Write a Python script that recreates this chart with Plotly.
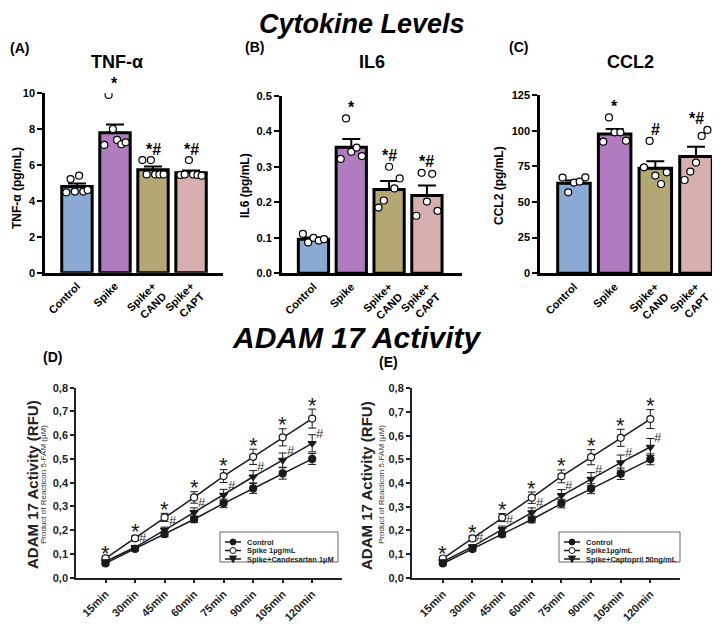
import plotly.graph_objects as go

# the page body has an 8px margin, so the figure is drawn 8px smaller and offset
PAGE_W, PAGE_H, OFF = 720, 634, 8
W, H = PAGE_W - OFF, PAGE_H - OFF

# ---- data : cytokines (bars = mean, error = SEM, dots = individual samples)
groups = ["Control", "Spike", "Spike+<br>CAND", "Spike+<br>CAPT"]
bar_colors = ["#8aaad3", "#b07cbf", "#b3a874", "#d8afaf"]

tnf_mean = [4.80, 7.80, 5.74, 5.57]
tnf_sem = [0.17, 0.46, 0.18, 0.12]
tnf_dots = [[4.48, 5.22, 4.52, 5.41, 4.52, 4.61],
            [7.12, 9.91, 8.01, 7.40, 7.16, 7.27],
            [6.28, 5.48, 6.28, 5.48, 5.48, 5.48],
            [5.45, 5.48, 6.28, 5.48, 5.45, 5.41]]
tnf_marks = ["", "*", "*#", "*#"]

il6_mean = [0.096, 0.355, 0.236, 0.219]
il6_sem = [0.005, 0.023, 0.024, 0.028]
il6_dots = [[0.111, 0.087, 0.100, 0.092, 0.096],
            [0.322, 0.436, 0.342, 0.354, 0.330],
            [0.185, 0.205, 0.300, 0.239, 0.267],
            [0.162, 0.283, 0.202, 0.280, 0.176]]
il6_marks = ["", "*", "*#", "*#"]

ccl2_mean = [63.1, 97.7, 73.6, 81.8]
ccl2_sem = [2.0, 3.5, 5.0, 7.0]
ccl2_dots = [[67.1, 56.8, 63.6, 64.3, 67.3],
             [92.3, 109.3, 98.8, 98.8, 93.0],
             [74.3, 92.8, 68.5, 62.6, 70.8],
             [65.4, 71.3, 77.6, 96.3, 100.5]]
ccl2_marks = ["", "*", "#", "*#"]

# ---- data : ADAM 17 activity
times = ["15min", "30min", "45min", "60min", "75min", "90min", "105min", "120min"]
ctrl = [0.060, 0.121, 0.183, 0.246, 0.313, 0.376, 0.439, 0.500]
ctrl_sem = [0.005, 0.008, 0.011, 0.014, 0.018, 0.021, 0.024, 0.023]
spike = [0.081, 0.166, 0.254, 0.338, 0.428, 0.509, 0.591, 0.670]
spike_sem = [0.006, 0.010, 0.017, 0.024, 0.027, 0.032, 0.036, 0.040]
cand = [0.068, 0.128, 0.200, 0.275, 0.348, 0.425, 0.495, 0.566]
cand_sem = [0.005, 0.008, 0.013, 0.019, 0.024, 0.026, 0.030, 0.036]
capt = [0.068, 0.131, 0.204, 0.275, 0.348, 0.416, 0.486, 0.552]
capt_sem = [0.005, 0.008, 0.014, 0.020, 0.024, 0.028, 0.032, 0.036]
star_marks = ["*", "*", "*", "*", "*", "*", "*", "*"]
hash_marks = ["", "#", "#", "#", "#", "#", "#", "#"]
adam_ticks = [0, 0.1, 0.2, 0.3, 0.4, 0.5, 0.6, 0.7, 0.8]
adam_ticktext = ["0,0", "0,1", "0,2", "0,3", "0,4", "0,5", "0,6", "0,7", "0,8"]

FONT = "Liberation Sans, Arial, sans-serif"
INK = "#1a1a1a"


def px_x(p):
    return (p - OFF) / W


def px_y(p):
    return 1 - (p - OFF) / H


fig = go.Figure()
annotations = []
shapes = []


def bar_panel(n, mean, sem, dots, marks, ymax, dtick, tickfmt, box, xr):
    xa, ya = ("x", "y") if n == 1 else (f"x{n}", f"y{n}")
    fig.add_trace(go.Bar(
        x=list(range(len(groups))), y=mean, width=0.8,
        marker=dict(color=bar_colors, line=dict(color="black", width=3)),
        error_y=dict(type="data", array=sem, arrayminus=[0] * len(sem), symmetric=False,
                     color="black", thickness=2, width=9),
        xaxis=xa, yaxis=ya, showlegend=False))
    for i, vals in enumerate(dots):
        k = len(vals)
        xs = [i - 0.28 + 0.56 * j / (k - 1) for j in range(k)]
        fig.add_trace(go.Scatter(
            x=xs, y=vals, mode="markers", xaxis=xa, yaxis=ya, showlegend=False,
            marker=dict(symbol="circle", size=7, color="white", line=dict(color="black", width=1.2))))
        if marks[i]:
            top = max(mean[i] + sem[i], max(vals))
            annotations.append(dict(x=i, y=top, xref=xa, yref=ya, text=f"<b>{marks[i]}</b>",
                                    showarrow=False, yanchor="middle", yshift=11,
                                    font=dict(family=FONT, size=16, color="black")))
    left, right, top_px, bot_px = box
    layout_x = dict(domain=[px_x(left), min(1, px_x(right))], range=xr, anchor=ya, automargin=False,
                    tickvals=list(range(len(groups))), ticktext=groups, tickangle=-45,
                    ticks="", showline=True, linecolor="black", linewidth=2.5,
                    showgrid=False, zeroline=False,
                    tickfont=dict(family=FONT, size=11, color="black", weight="bold"))
    layout_y = dict(domain=[px_y(bot_px), px_y(top_px)], range=[0, ymax], anchor=xa, automargin=False,
                    dtick=dtick, tickformat=tickfmt, ticks="outside", ticklen=5, tickwidth=2,
                    tickcolor="black", showline=True, linecolor="black", linewidth=2.5,
                    showgrid=False, zeroline=False,
                    tickfont=dict(family=FONT, size=11, color="black", weight="bold"))
    key = "" if n == 1 else str(n)
    fig.update_layout(**{f"xaxis{key}": layout_x, f"yaxis{key}": layout_y})


bar_panel(1, tnf_mean, tnf_sem, tnf_dots, tnf_marks, 10, 2, "d",
          (45, 223, 93.3, 272.7), [-0.84, 3.84])
bar_panel(2, il6_mean, il6_sem, il6_dots, il6_marks, 0.5, 0.1, ".1f",
          (281.7, 461.7, 95.7, 273.3), [-0.84, 3.92])
bar_panel(3, ccl2_mean, ccl2_sem, ccl2_dots, ccl2_marks, 125, 25, "d",
          (540, 720, 95, 273.3), [-0.835, 3.59])


def legend_box(x0, y0, x1, y1, labels):
    # hand-drawn legend, compact like the original
    shapes.append(dict(type="rect", xref="paper", yref="paper", x0=px_x(x0), x1=px_x(x1),
                       y0=px_y(y1), y1=px_y(y0), line=dict(color="#666", width=1),
                       fillcolor="white", layer="above"))
    syms = ["dot", "open", "tri"]
    for k, lab in enumerate(labels):
        yy = y0 + 10 + 8.5 * k
        shapes.append(dict(type="line", xref="paper", yref="paper", x0=px_x(x0 + 5), x1=px_x(x0 + 21),
                           y0=px_y(yy), y1=px_y(yy), line=dict(color=INK, width=1.5), layer="above"))
        cx = x0 + 13
        if syms[k] == "tri":
            path = (f"M {px_x(cx - 3.5)} {px_y(yy - 3)} L {px_x(cx + 3.5)} {px_y(yy - 3)} "
                    f"L {px_x(cx)} {px_y(yy + 3.5)} Z")
            shapes.append(dict(type="path", xref="paper", yref="paper", path=path,
                               fillcolor=INK, line=dict(color=INK, width=1), layer="above"))
        else:
            shapes.append(dict(type="circle", xref="paper", yref="paper",
                               x0=px_x(cx - 3), x1=px_x(cx + 3), y0=px_y(yy + 3), y1=px_y(yy - 3),
                               fillcolor=INK if syms[k] == "dot" else "white",
                               line=dict(color=INK, width=1), layer="above"))
        annotations.append(dict(x=px_x(x0 + 25), y=px_y(yy), xref="paper", yref="paper",
                                text=f"<b>{lab}</b>", showarrow=False, xanchor="left", yanchor="middle",
                                font=dict(family=FONT, size=7.5, color="#222")))


def line_panel(n, third, third_sem, labels, box, xr, legpos):
    xa, ya = f"x{n}", f"y{n}"
    series = [(ctrl, ctrl_sem, "circle", INK),
              (spike, spike_sem, "circle", "white"),
              (third, third_sem, "triangle-down", INK)]
    for (vals, err, sym, fill), name in zip(series, labels):
        fig.add_trace(go.Scatter(
            x=times, y=vals, name=name, mode="lines+markers", xaxis=xa, yaxis=ya, showlegend=False,
            line=dict(color=INK, width=1.5),
            marker=dict(symbol=sym, size=7, color=fill, line=dict(color=INK, width=1.2)),
            error_y=dict(type="data", array=err, color=INK, thickness=1, width=4)))
    for i, t in enumerate(times):
        annotations.append(dict(x=t, y=spike[i] + spike_sem[i], xref=xa, yref=ya,
                                text=star_marks[i], showarrow=False, yanchor="middle", yshift=4,
                                font=dict(family=FONT, size=22, color=INK)))
        if hash_marks[i]:
            annotations.append(dict(x=t, y=third[i], xref=xa, yref=ya, text=hash_marks[i],
                                    showarrow=False, yanchor="middle", xshift=8, yshift=10,
                                    font=dict(family=FONT, size=13, color="#333")))
    left, right, top_px, bot_px = box
    fig.update_layout(**{
        f"xaxis{n}": dict(domain=[px_x(left), px_x(right)], range=xr, anchor=ya, type="category",
                          automargin=False, tickangle=-45, ticks="outside", ticklen=4, tickwidth=1.5,
                          tickcolor="#222", showline=True, linecolor="#222", linewidth=1.5,
                          showgrid=False, zeroline=False,
                          tickfont=dict(family=FONT, size=11, color="#222", weight="bold")),
        f"yaxis{n}": dict(domain=[px_y(bot_px), px_y(top_px)], range=[0, 0.8], anchor=xa,
                          automargin=False, tickvals=adam_ticks, ticktext=adam_ticktext,
                          ticks="outside", ticklen=4, tickwidth=1.5, tickcolor="#222",
                          showline=True, linecolor="#222", linewidth=1.5,
                          showgrid=False, zeroline=False,
                          tickfont=dict(family=FONT, size=11, color="#222", weight="bold")),
    })
    legend_box(*legpos, labels)


line_panel(4, cand, cand_sem, ["Control", "Spike 1µg/mL", "Spike+Candesartan 1µM"],
           (76, 341.7, 387.7, 577.7), [-1.0, 8.0], (220, 532, 338, 562))
line_panel(5, capt, capt_sem, ["Control", "Spike1µg/mL", "Spike+Captopril 50ng/mL"],
           (411.7, 680, 388.3, 577.7), [-1.05, 8.0], (559, 532, 680, 562))


# ---- text: titles, panel letters, axis titles
def text(x, y, s, size, bold=True, italic=False, angle=0, color="black", yanchor="middle"):
    if bold:
        s = f"<b>{s}</b>"
    if italic:
        s = f"<i>{s}</i>"
    annotations.append(dict(x=px_x(x), y=px_y(y), xref="paper", yref="paper", text=s,
                            showarrow=False, textangle=angle, xanchor="center", yanchor=yanchor,
                            borderpad=0, font=dict(family=FONT, size=size, color=color)))


text(362, 8, "Cytokine Levels", 27, italic=True, yanchor="top")
text(357, 337, "ADAM 17 Activity", 30, italic=True)
text(19, 48, "(A)", 14)
text(254, 47, "(B)", 14)
text(518, 47, "(C)", 14)
text(52, 357, "(D)", 14)
text(388, 362, "(E)", 14)
text(117, 62, "TNF-α", 18)
text(372, 62, "IL6", 18)
text(630, 62, "CCL2", 18)
text(17, 188, "TNF-α (pg/mL)", 12, angle=-90)
text(245, 186, "IL6 (pg/mL)", 12, angle=-90)
text(499, 186, "CCL2 (pg/mL)", 12, angle=-90)
text(32, 485, "ADAM 17 Activity (RFU)", 15, angle=-90, color="#222")
text(43, 485, "Product of Reacticon 5-FAM (µM)", 8, bold=False, angle=-90, color="#333")
text(366, 485, "ADAM 17 Activity (RFU)", 15, angle=-90, color="#222")
text(381, 485, "Product of Reacticon 5-FAM (µM)", 8, bold=False, angle=-90, color="#333")

fig.update_layout(
    width=W, height=H, margin=dict(l=0, r=0, t=0, b=0),
    paper_bgcolor="white", plot_bgcolor="white",
    font=dict(family=FONT, color="black"),
    showlegend=False,
    annotations=annotations,
    shapes=shapes,
)

fig.write_html("out.html")
